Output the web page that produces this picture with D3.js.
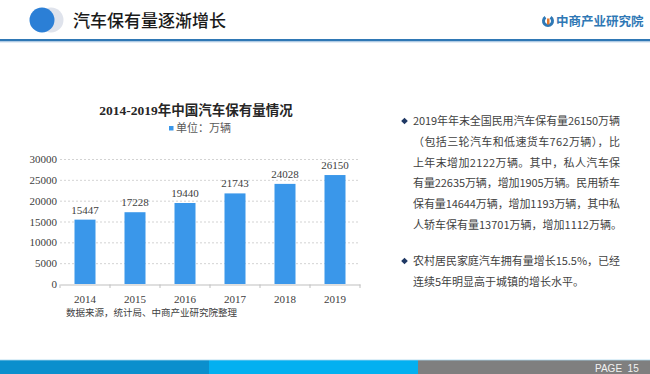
<!DOCTYPE html>
<html><head><meta charset="utf-8">
<script src="https://cdn.jsdelivr.net/npm/d3@7"></script>
<style>
html,body{margin:0;padding:0;background:#fff;}
svg{display:block;}
</style></head>
<body>
<svg id="c" width="650" height="374"></svg>
<script>
const years = ["2014","2015","2016","2017","2018","2019"];
const values = [15447, 17228, 19440, 21743, 24028, 26150];
const yTicks = [0, 5000, 10000, 15000, 20000, 25000, 30000];
const pageTitle = "汽车保有量逐渐增长";
const chartTitle = "2014-2019年中国汽车保有量情况";
const legendLabel = "单位：万辆";
const sourceNote = "数据来源，统计局、中商产业研究院整理";
const brand = "中商产业研究院";
const para1 = [
  "2019年年末全国民用汽车保有量26150万辆",
  "（包括三轮汽车和低速货车762万辆），比",
  "上年末增加2122万辆。其中，私人汽车保",
  "有量22635万辆，增加1905万辆。民用轿车",
  "保有量14644万辆，增加1193万辆，其中私",
  "人轿车保有量13701万辆，增加1112万辆。"
];
const para2 = [
  "农村居民家庭汽车拥有量增长15.5%，已经",
  "连续5年明显高于城镇的增长水平。"
];

const svg = d3.select("#c");
const CJK = "'Noto Sans CJK SC','Noto Sans',sans-serif";
const SERIF = "'Liberation Serif','Times New Roman','Noto Sans CJK SC',serif";

// Header
svg.append("circle").attr("cx",51).attr("cy",20).attr("r",12.5).attr("fill","#dfe3ec");
svg.append("circle").attr("cx",42).attr("cy",20).attr("r",12.5).attr("fill","#2b7fd6");
svg.append("text").attr("x",73).attr("y",26.5).attr("font-family",CJK).attr("font-size",17)
  .attr("font-weight",500).attr("fill","#1a1a1a").text(pageTitle);
svg.append("rect").attr("x",0).attr("y",39).attr("width",650).attr("height",2.5).attr("fill","#2f78b5");
svg.append("rect").attr("x",0).attr("y",41.5).attr("width",650).attr("height",1).attr("fill","#c9dced");

// Brand logo
const lg = svg.append("g").attr("transform","translate(548,21)");
lg.append("path").attr("d", d3.arc()({innerRadius:3,outerRadius:6,startAngle:0.6,endAngle:Math.PI*2-0.6})).attr("fill","#2f78b5");
lg.append("rect").attr("x",-1).attr("y",-2.5).attr("width",2.5).attr("height",6).attr("fill","#e8792b");
svg.append("text").attr("x",556).attr("y",25.5).attr("font-family",CJK).attr("font-size",12.5)
  .attr("font-weight",700).attr("fill","#2f78b5").text(brand);

// Chart
const x = d3.scaleBand().domain(years).range([60,360]).paddingInner(0.58).paddingOuter(0.29);
const y = d3.scaleLinear().domain([0,30000]).range([284,159]);

svg.append("text").attr("x",196).attr("y",115).attr("text-anchor","middle")
  .attr("font-family",SERIF).attr("font-size",13.5).attr("font-weight",700).attr("fill","#262626").text(chartTitle);
svg.append("rect").attr("x",169).attr("y",126).attr("width",4.5).attr("height",4.5).attr("fill","#3a97ea");
svg.append("text").attr("x",176).attr("y",132).attr("font-family",SERIF).attr("font-size",11)
  .attr("fill","#595959").text(legendLabel);

// gridlines
svg.append("g").selectAll("line").data(yTicks.filter(d=>d>0)).join("line")
  .attr("x1",60).attr("x2",360).attr("y1",d=>y(d)+0.5).attr("y2",d=>y(d)+0.5)
  .attr("stroke","#c8c8c8").attr("stroke-width",0.8).attr("stroke-dasharray","2,2");

// y axis labels
const ya = svg.append("g").attr("transform","translate(60,0)")
  .call(d3.axisLeft(y).tickValues(yTicks).tickSize(0).tickPadding(3).tickFormat(d3.format("d")));
ya.select(".domain").remove();
ya.selectAll("text").attr("font-family",SERIF).attr("font-size",11).attr("fill","#404040");

// bars
svg.append("g").selectAll("rect").data(values).join("rect")
  .attr("x",(d,i)=>x(years[i])).attr("width",x.bandwidth())
  .attr("y",d=>y(d)).attr("height",d=>y(0)-y(d)).attr("fill","#3a97ea");

// value labels
svg.append("g").selectAll("text").data(values).join("text")
  .attr("x",(d,i)=>x(years[i])+x.bandwidth()/2).attr("y",d=>y(d)-6)
  .attr("text-anchor","middle").attr("font-family",SERIF).attr("font-size",11).attr("fill","#404040")
  .text(d=>d);

// x axis
const xa = svg.append("g").attr("transform","translate(0,284.5)")
  .call(d3.axisBottom(x).tickSize(0).tickPadding(11));
xa.select(".domain").attr("stroke","#bfbfbf");
xa.selectAll("text").attr("font-family",SERIF).attr("font-size",11).attr("fill","#404040");
svg.append("g").selectAll("line").data(d3.range(years.length+1)).join("line")
  .attr("x1",i=>60+i*x.step()).attr("x2",i=>60+i*x.step()).attr("y1",284.5).attr("y2",288)
  .attr("stroke","#bfbfbf");

svg.append("text").attr("x",66).attr("y",315.5).attr("font-family",CJK).attr("font-size",9.5)
  .attr("fill","#404040").text(sourceNote);

// Right text
function para(lines, y0){
  lines.forEach((t,i)=>{
    const tx = svg.append("text").attr("x",413).attr("y",y0+i*20.8).attr("font-family",CJK)
      .attr("font-size",11).attr("fill","#3f3f3f").text(t);
    if(i<lines.length-1){ tx.attr("textLength",207).attr("lengthAdjust","spacing"); }
  });
  svg.append("path").attr("d", d3.symbol().type(d3.symbolSquare).size(22)())
    .attr("transform",`translate(404.5,${y0-4}) rotate(45)`).attr("fill","#1f3864");
}
para(para1, 125);
para(para2, 265);

// Footer
svg.append("rect").attr("x",0).attr("y",360).attr("width",209).attr("height",14).attr("fill","#0b8fcd");
svg.append("rect").attr("x",209).attr("y",360).attr("width",209).attr("height",14).attr("fill","#03b0f0");
svg.append("rect").attr("x",418).attr("y",360).attr("width",232).attr("height",14).attr("fill","#7f7f7f");
svg.append("rect").attr("x",0).attr("y",359.5).attr("width",650).attr("height",1).attr("fill","#a9d6ee").attr("opacity",0.8);
svg.append("text").attr("x",595).attr("y",371.5).attr("font-family","'Liberation Sans','DejaVu Sans',sans-serif")
  .attr("font-size",10).attr("fill","#f2f2f2").text("PAGE  15").attr("xml:space","preserve");
</script>
</body></html>
